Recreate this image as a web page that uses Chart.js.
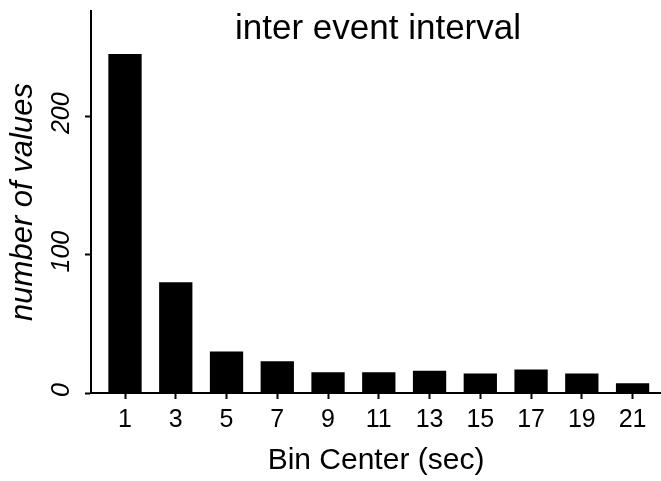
<!DOCTYPE html>
<html>
<head>
<meta charset="utf-8">
<title>inter event interval</title>
<script src="https://cdn.jsdelivr.net/npm/chart.js@4/dist/chart.umd.min.js"></script>
<style>
  html, body { margin: 0; padding: 0; background: #fff; }
  #wrap { width: 661px; height: 481px; position: relative; }
</style>
</head>
<body>
<div id="wrap"><canvas id="histChart"></canvas></div>
<script>
// ── Data ─────────────────────────────────────────────────────
const BIN_CENTERS = [1, 3, 5, 7, 9, 11, 13, 15, 17, 19, 21];
const COUNTS      = [245, 80, 30, 23, 15, 15, 16, 14, 17, 14, 7];
const X_TICKS     = [1, 3, 5, 7, 9, 11, 13, 15, 17, 19, 21];
const Y_TICKS     = [0, 100, 200];

const TITLE   = "inter event interval";
const X_TITLE = "Bin Center (sec)";
const Y_TITLE = "number of values";

(() => {
  "use strict";

  const FONT = "'Liberation Sans', Arial, Helvetica, sans-serif";
  const INK = "#000";

  // ── Title + rotated y tick labels ───────────────────────────
  const overlayText = {
    id: "overlayText",
    afterDraw(chart) {
      const { ctx } = chart;
      const y = chart.scales.y;
      ctx.save();
      ctx.fillStyle = INK;

      ctx.font = `35px ${FONT}`;
      ctx.textAlign = "center";
      ctx.textBaseline = "alphabetic";
      ctx.fillText(TITLE, 378, 39);

      // labels read bottom-to-top, like the axis title
      ctx.font = `italic 25px ${FONT}`;
      ctx.textBaseline = "middle";
      Y_TICKS.forEach((v) => {
        ctx.save();
        ctx.translate(62, y.getPixelForValue(v) - 3);
        ctx.rotate(-Math.PI / 2);
        ctx.fillText(String(v), 0, 0);
        ctx.restore();
      });
      ctx.restore();
    },
  };

  const axisLook = {
    border: { display: true, color: INK, width: 2 },
    grid: {
      display: true,
      drawOnChartArea: false,
      drawTicks: true,
      tickLength: 6,
      tickWidth: 2,
      tickColor: INK,
      offset: false,
    },
  };

  new Chart(document.getElementById("histChart"), {
    type: "bar",
    data: {
      datasets: [
        {
          data: BIN_CENTERS.map((x, i) => ({ x, y: COUNTS[i] })),
          backgroundColor: INK,
          borderWidth: 0,
          barPercentage: 0.82,
          categoryPercentage: 0.8,
        },
      ],
    },
    options: {
      responsive: true,
      maintainAspectRatio: false,
      animation: false,
      layout: { padding: { top: 11, right: 0, bottom: 0, left: 0 } },
      plugins: {
        legend: { display: false },
        tooltip: { enabled: false },
      },
      scales: {
        x: {
          type: "linear",
          offset: false,
          min: -0.34,
          max: 22.12,
          ...axisLook,
          afterBuildTicks: (scale) => {
            scale.ticks = X_TICKS.map((value) => ({ value }));
          },
          afterFit: (scale) => {
            scale.height = 88;
          },
          ticks: {
            color: INK,
            padding: 6,
            maxRotation: 0,
            autoSkip: false,
            font: { family: FONT, size: 25 },
            callback: (v) => String(v),
          },
          title: {
            display: true,
            text: X_TITLE,
            color: INK,
            font: { family: FONT, size: 30 },
            padding: { top: 0, bottom: 2 },
          },
        },
        y: {
          min: 0,
          max: 276,
          ...axisLook,
          afterBuildTicks: (scale) => {
            scale.ticks = Y_TICKS.map((value) => ({ value }));
          },
          afterFit: (scale) => {
            scale.width = 91;
          },
          ticks: { display: false },
          title: {
            display: true,
            text: Y_TITLE,
            color: INK,
            font: { family: FONT, size: 31, style: "italic" },
            padding: { top: 5, bottom: 0 },
          },
        },
      },
    },
    plugins: [overlayText],
  });
})();
</script>
</body>
</html>
